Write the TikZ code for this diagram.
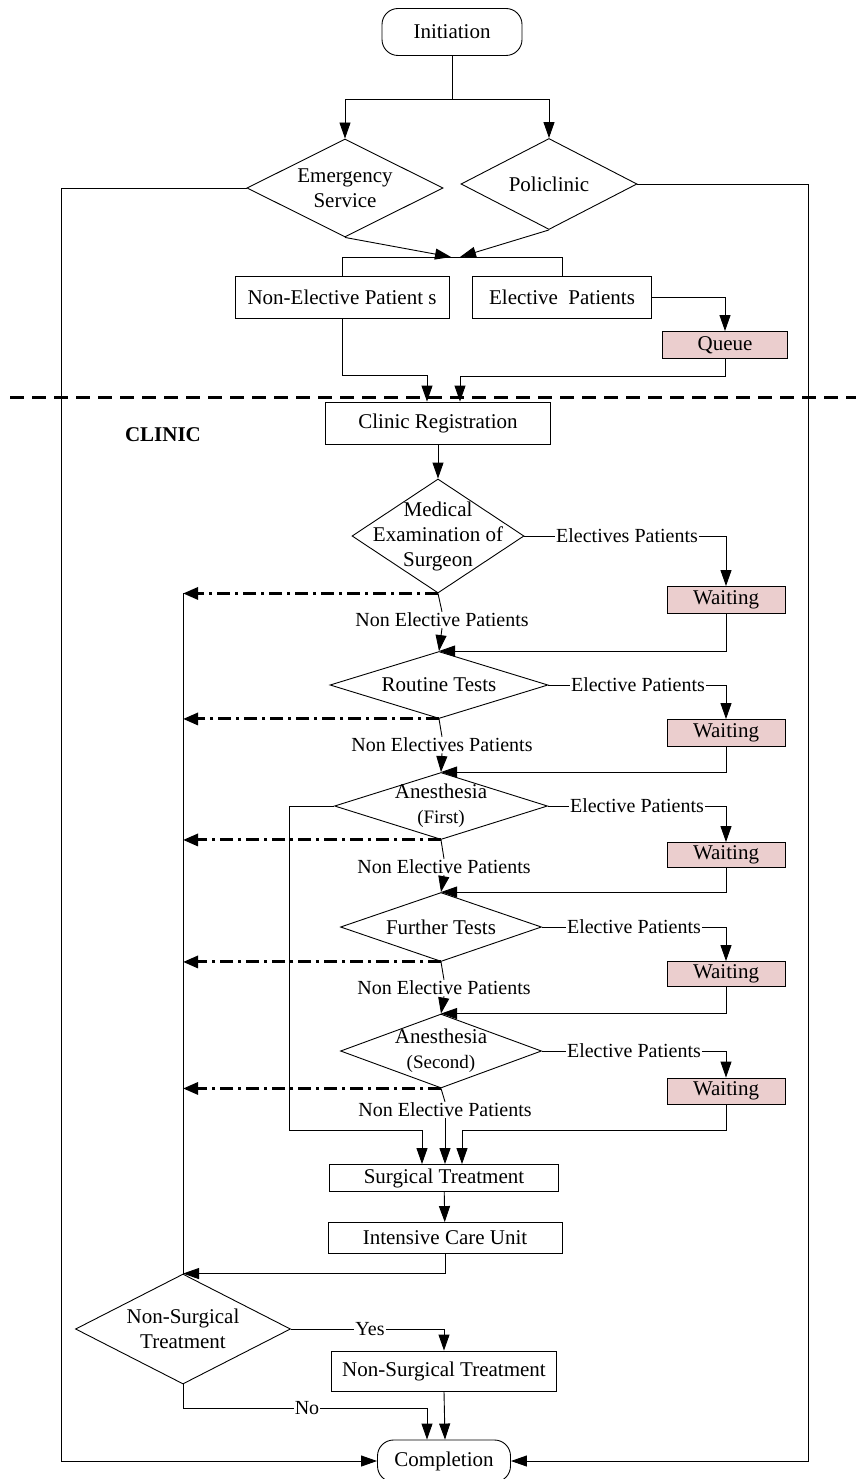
\documentclass[tikz,border=0pt]{standalone}
\usepackage{fontspec}
\setmainfont{Liberation Serif}
\usetikzlibrary{shapes.geometric,arrows.meta}
\definecolor{waitpink}{RGB}{235,206,206}
\tikzset{
  flowbox/.style={draw, rectangle, inner sep=0pt, line width=0.9pt, font=\fontsize{21}{25}\selectfont},
  waitbox/.style={flowbox, fill=waitpink},
  terminal/.style={flowbox, rounded corners=16pt},
  decision/.style={draw, diamond, inner sep=0pt, line width=0.9pt},
  decisiontext/.style={align=center, inner sep=0pt, font=\fontsize{21}{25}\selectfont},
  flowlabel/.style={inner sep=1pt, font=\fontsize{20}{23}\selectfont},
  flowline/.style={line width=0.9pt},
  flow/.style={flowline, -{Triangle[length=16pt,width=11pt]}},
  rework/.style={line width=3pt, dash pattern=on 13pt off 5pt on 3pt off 5pt, -{Triangle[length=15pt,width=12pt]}},
  sectionline/.style={line width=3pt, dash pattern=on 14pt off 8pt}
}
\newcommand{\smalltext}[1]{{\fontsize{19}{21}\selectfont #1}}
\begin{document}
\begin{tikzpicture}[x=1pt,y=1pt,yscale=-1]
\useasboundingbox (0,0) rectangle (856,1479);

% Outside the clinic
\node[terminal, minimum width=140pt, minimum height=47pt] (init) at (452,32) {Initiation};
\node[decision, minimum width=196pt, minimum height=98pt,
  label={[decisiontext]center:{Emergency\\Service}}] (emerg) at (345,188) {};
\node[decision, minimum width=176pt, minimum height=91pt,
  label={[decisiontext]center:Policlinic}] (policl) at (549,184) {};
\node[flowbox, minimum width=214pt, minimum height=42pt] (nonel) at (342,297) {Non-Elective Patient s};
\node[flowbox, minimum width=179pt, minimum height=42pt] (elect) at (562,297) {Elective\ \ Patients};
\node[waitbox, minimum width=125pt, minimum height=27pt] (queue) at (725,345) {Queue};

\coordinate (split) at (452,99);
\coordinate (merge) at (455,257);
\coordinate (leftrail) at (61,0);
\coordinate (rightrail) at (808,0);

\draw[flowline] (init) -- (split);
\draw[flow] (split) -| (emerg.north);
\draw[flow] (split) -| (policl.north);
\draw[flow] (emerg.south) -- ([xshift=-4pt]merge);
\draw[flow] (policl.south) -- ([xshift=5pt]merge);
\draw[flowline] (nonel.north) -- (nonel.north |- merge) -- (elect.north |- merge) -- (elect.north);
\draw[flow] (elect.east) -| (queue.north);

% Section border
\draw[sectionline] (10,397) -- (856,397);
\node[font=\bfseries\fontsize{21}{25}\selectfont] (clinic) at (163,435) {CLINIC};

% Clinic
\node[flowbox, minimum width=225pt, minimum height=42pt] (clinreg) at (438,423) {Clinic Registration};
\draw[flow] (nonel.south) -- ++(0,57) -| ([xshift=-11pt]clinreg.north);
\draw[flow] (queue.south) -- ++(0,17) -| ([xshift=22pt]clinreg.north);

\node[decision, minimum width=172pt, minimum height=114pt,
  label={[decisiontext]center:{Medical\\Examination of\\Surgeon}}] (medical) at (438,536) {};
\node[decision, minimum width=218pt, minimum height=67pt,
  label={[decisiontext]center:Routine Tests}] (routine) at (439,685) {};
\node[decision, minimum width=213pt, minimum height=67pt,
  label={[decisiontext]center:{Anesthesia\\\smalltext{(First)}}}] (anes1) at (441,806) {};
\node[decision, minimum width=201pt, minimum height=69pt,
  label={[decisiontext]center:Further Tests}] (further) at (441,927) {};
\node[decision, minimum width=201pt, minimum height=74pt,
  label={[decisiontext]center:{Anesthesia\\\smalltext{(Second)}}}] (anes2) at (441,1051) {};

\node[waitbox, minimum width=118pt, minimum height=27pt] (wait1) at (726,600) {Waiting};
\node[waitbox, minimum width=118pt, minimum height=27pt] (wait2) at (726,733) {Waiting};
\node[waitbox, minimum width=118pt, minimum height=25pt] (wait3) at (726,855) {Waiting};
\node[waitbox, minimum width=118pt, minimum height=25pt] (wait4) at (726,974) {Waiting};
\node[waitbox, minimum width=118pt, minimum height=26pt] (wait5) at (726,1091) {Waiting};

\node[flowlabel] (el1) at (627,536) {Electives Patients};
\node[flowlabel] (el2) at (638,685) {Elective Patients};
\node[flowlabel] (el3) at (637,806) {Elective Patients};
\node[flowlabel] (el4) at (634,927) {Elective Patients};
\node[flowlabel] (el5) at (634,1051) {Elective Patients};

\node[flowlabel] (ne1) at (442,620) {Non Elective Patients};
\node[flowlabel] (ne2) at (442,745) {Non Electives Patients};
\node[flowlabel] (ne3) at (444,867) {Non Elective Patients};
\node[flowlabel] (ne4) at (444,988) {Non Elective Patients};
\node[flowlabel] (ne5) at (445,1110) {Non Elective Patients};

\draw[flow] (clinreg) -- (medical);

% elective branch
\draw[flowline] (medical.east) -- (el1.west);
\draw[flow] (el1.east) -| (wait1.north);
\draw[flow] (wait1.south) |- (routine.north);
\draw[flowline] (routine.east) -- (el2.west);
\draw[flow] (el2.east) -| (wait2.north);
\draw[flow] (wait2.south) |- (anes1.north);
\draw[flowline] (anes1.east) -- (el3.west);
\draw[flow] (el3.east) -| (wait3.north);
\draw[flow] (wait3.south) |- (further.north);
\draw[flowline] (further.east) -- (el4.west);
\draw[flow] (el4.east) -| (wait4.north);
\draw[flow] (wait4.south) |- (anes2.north);
\draw[flowline] (anes2.east) -- (el5.west);
\draw[flow] (el5.east) -| (wait5.north);

% non elective branch
\draw[flowline] (medical.south) -- (ne1.north);
\draw[flow] (ne1.south) -- (routine.north);
\draw[flowline] (routine.south) -- (ne2.north);
\draw[flow] (ne2.south) -- (anes1.north);
\draw[flowline] (anes1.south) -- (ne3.north);
\draw[flow] (ne3.south) -- (further.north);
\draw[flowline] (further.south) -- (ne4.north);
\draw[flow] (ne4.south) -- (anes2.north);
\draw[flowline] (anes2.south) -- (ne5.north);

% treatment
\node[flowbox, minimum width=229pt, minimum height=27pt] (surgical) at (444,1178) {Surgical Treatment};
\node[flowbox, minimum width=234pt, minimum height=31pt] (icu) at (445,1238) {Intensive Care Unit};
\node[decision, minimum width=215pt, minimum height=110pt,
  label={[decisiontext]center:{Non-Surgical\\Treatment}}] (nsdec) at (183,1329) {};
\node[flowbox, minimum width=225pt, minimum height=40pt] (nsbox) at (444,1371) {Non-Surgical Treatment};
\node[terminal, minimum width=133pt, minimum height=42pt] (complete) at (444,1461) {Completion};

\draw[flow] (anes1.west) -- ++(-45,0) -- ++(0,324) -| ([xshift=-22pt]surgical.north);
\draw[flow] (ne5.south) -- ([xshift=1pt]surgical.north);
\draw[flow] (wait5.south) -- ++(0,26) -| ([xshift=18pt]surgical.north);
\draw[flow] (surgical) -- (icu);

% back to the non-surgical decision
\coordinate (collect) at (183,593);
\draw[flowline] (collect) -- (nsdec.north);
\draw[rework] (medical.south) -- (medical.south -| collect);
\draw[rework] (routine.south) -- (routine.south -| collect);
\draw[rework] (anes1.south) -- (anes1.south -| collect);
\draw[rework] (further.south) -- (further.south -| collect);
\draw[rework] (anes2.south) -- (anes2.south -| collect);
\draw[flow] (icu.south) |- (nsdec.north);

\node[flowlabel] (yes) at (370,1329) {Yes};
\node[flowlabel] (no) at (307,1408) {No};
\draw[flowline] (nsdec.east) -- (yes.west);
\draw[flow] (yes.east) -| (nsbox.north);
\draw[flowline] (nsdec.south) |- (no.west);
\draw[flow] (no.east) -| ([xshift=-17pt]complete.north);
\draw[flow] (nsbox.south) -- ([xshift=1pt]complete.north);

% outer rails
\draw[flow] (emerg.west) -| (leftrail |- complete.west) -- (complete.west);
\draw[flow] (policl.east) -| (rightrail |- complete.east) -- (complete.east);

\end{tikzpicture}
\end{document}
